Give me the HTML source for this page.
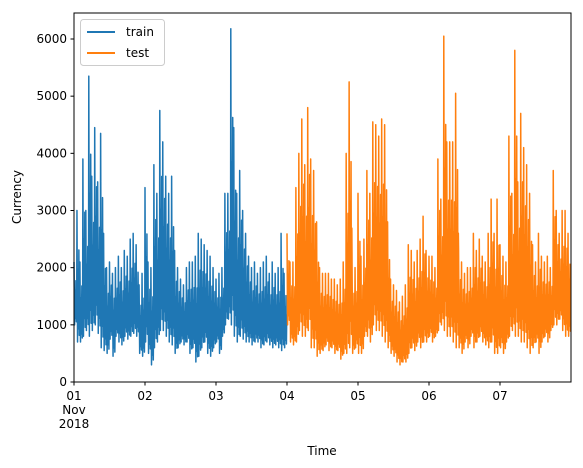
<!DOCTYPE html>
<html><head><meta charset="utf-8"><style>
body{margin:0;background:#fff;}
svg text{font-family:"DejaVu Sans","Liberation Sans",sans-serif;font-size:12px;fill:#000;}
</style></head><body>
<svg id="chart" width="583" height="468" xmlns="http://www.w3.org/2000/svg" style="position:absolute;left:0;top:0">
<rect x="0" y="0" width="583" height="468" fill="#fff"/>
<g id="plot"></g>
<g id="axes"></g>
</svg>
<script>
const dayLabels=["01","02","03","04","05","06","07"];
const yTicks=[0,1000,2000,3000,4000,5000,6000];
const trainHigh=[2100,3000,2100,3900,3000,5350,3600,4450,3500,4350,2600,2000,2100,1900,2000,2200,2000,2300,2200,2500,2600,2400,1700,1900,
3400,2100,2000,3800,3300,4750,4200,3600,3300,3600,2300,2000,1800,1700,2000,2100,2100,2200,2600,2500,2400,2300,2200,2000,
1800,1900,2000,3300,3300,6180,4450,3300,3700,3000,2600,2200,2000,2100,1900,2000,2100,2200,1900,2100,1900,2000,2600,1900];
const trainLow=[1000,700,700,800,900,800,900,1000,850,600,550,500,750,450,800,700,650,800,750,800,850,800,500,450,
700,500,300,600,700,900,900,800,700,650,500,600,700,650,700,500,600,350,450,600,700,500,450,600,
700,500,800,1000,1100,1000,800,700,800,750,700,700,650,700,700,600,650,700,650,600,650,600,550,600];
const testHigh=[2600,2100,2100,3400,4000,4600,3800,4800,3900,3700,2800,2000,1900,1900,1900,1800,1800,1700,1800,2100,4000,5250,2000,2000,
3300,2200,2500,3700,3300,4550,4500,4300,4600,4500,2800,1800,1700,1600,1400,1500,1700,2400,2300,2100,2300,2500,2900,2300,
2200,2200,2000,3900,3200,6050,4200,4200,4200,5050,2300,2100,1900,2000,2000,2600,2300,2500,2200,2100,2600,3200,2600,3200,
2400,2200,2100,4300,3300,5800,3500,4700,4100,3800,3300,2400,2100,2600,2200,2100,2200,2000,3700,3000,2600,3000,3000,2600];
const testLow=[1000,700,650,700,900,800,800,900,600,600,450,500,550,650,550,600,500,550,400,500,500,600,500,600,
500,500,800,800,700,1000,900,900,800,700,600,500,450,350,300,350,350,500,600,550,700,600,700,700,
800,700,800,900,1000,900,800,800,700,600,600,500,700,600,800,600,700,800,700,650,600,700,500,500,
600,500,700,800,900,800,800,700,700,600,500,600,700,500,700,800,700,900,1000,1000,1100,900,800,800];

const X0=74,X1=571,Y0=382,Y1=13;
const xScale=h=>X0+(X1-X0)*h/168;
const yScale=v=>Y0-v*(382-39)/6000;
const NS="http://www.w3.org/2000/svg";
const plot=document.getElementById('plot');
const axes=document.getElementById('axes');
function mk(tag,attrs,parent){const e=document.createElementNS(NS,tag);for(const k in attrs)e.setAttribute(k,attrs[k]);parent.appendChild(e);return e;}

// within-hour shape: fraction of (high-low) above low at sub-steps
const sub=[[0,1],[0.2,0],[0.35,0.55],[0.5,0.1],[0.65,0.7],[0.8,0.05],[0.92,0.45]];
function series(hi,lo,offset,color,name){
  let d="";
  for(let i=0;i<hi.length;i++){
    const h=offset+i;
    sub.forEach((s,j)=>{
      const v=lo[i]+s[1]*(hi[i]-lo[i]);
      d+=((i===0&&j===0)?"M":"L")+xScale(h+s[0]).toFixed(2)+","+yScale(v).toFixed(2);
    });
  }
  const p=mk('path',{d:d,fill:'none',stroke:color,'stroke-width':1.5,'stroke-linejoin':'round'},plot);
  
  
}
series(trainHigh,trainLow,0,'#1f77b4','train-line');
series(testHigh,testLow,72,'#ff7f0e','test-line');

const fr=mk('rect',{x:X0,y:Y1,width:X1-X0,height:Y0-Y1,fill:'none',stroke:'#000','stroke-width':1},axes);



yTicks.forEach(v=>{
  const y=yScale(v);
  mk('line',{x1:X0-3.5,x2:X0,y1:y,y2:y,stroke:'#000'},axes);
  const t=mk('text',{x:X0-7,y:y+4,'text-anchor':'end'},axes);
  t.textContent=v;
  
  
});
dayLabels.forEach((lab,i)=>{
  const x=xScale(i*24);
  mk('line',{x1:x,x2:x,y1:Y0,y2:Y0+3.5,stroke:'#000'},axes);
  const t=mk('text',{x:x,y:400,'text-anchor':'middle'},axes);
  t.textContent=lab;
  
  
});
</script>
<svg style="position:absolute;left:0;top:0" width="583" height="468" xmlns="http://www.w3.org/2000/svg">
<text x="74" y="414" text-anchor="middle">Nov</text>
<text x="74" y="428" text-anchor="middle">2018</text>
<text x="322" y="455" text-anchor="middle">Time</text>
<text x="21" y="197" text-anchor="middle" transform="rotate(-90 21 197)">Currency</text>
<g>
<rect x="80.5" y="19.5" width="84" height="46" rx="3" fill="#fff" fill-opacity="0.8" stroke="#ccc"/>
<line x1="87" x2="115" y1="32" y2="32" stroke="#1f77b4" stroke-width="2"/>
<text x="126" y="36">train</text>
<line x1="87" x2="115" y1="53" y2="53" stroke="#ff7f0e" stroke-width="2"/>
<text x="126" y="57">test</text>
</g>
</svg>
</body></html>
